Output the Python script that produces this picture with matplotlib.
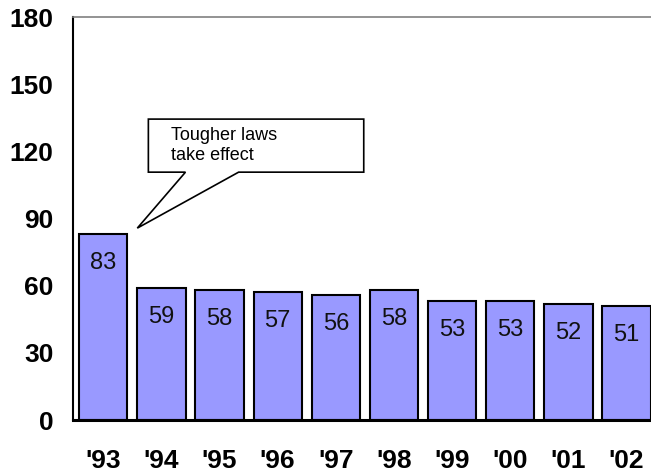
import matplotlib
matplotlib.use("Agg")
import matplotlib.pyplot as plt
from matplotlib.patches import Polygon

years = ["'93", "'94", "'95", "'96", "'97", "'98", "'99", "'00", "'01", "'02"]
values = [83, 59, 58, 57, 56, 58, 53, 53, 52, 51]
y_ticks = [0, 30, 60, 90, 120, 150, 180]
callout_text = "Tougher laws\ntake effect"

plt.rcParams["font.family"] = ["Liberation Sans", "DejaVu Sans"]

fig = plt.figure(figsize=(6.51, 4.73), dpi=100)
ax = fig.add_axes([73 / 651, 1 - 420 / 473, 1 - 73 / 651, (420 - 17) / 473])

x = range(len(years))
ax.bar(x, values, width=0.83, color="#9999FF", edgecolor="black", linewidth=1.5, zorder=2)
for i, v in zip(x, values):
    ax.text(i, v - 13, str(v), ha="center", va="center", fontsize=17, color="#111111")

ax.set_xlim(-0.52, 9.42)
ax.set_ylim(0, 180)
ax.set_yticks(y_ticks)
ax.set_xticks(list(x))
ax.set_xticklabels(years)
for lab in ax.get_xticklabels() + ax.get_yticklabels():
    lab.set_fontweight("bold")
    lab.set_fontsize(19)
ax.tick_params(axis="y", length=0, pad=14)
ax.tick_params(axis="x", length=0, pad=21)

ax.spines["right"].set_visible(False)
ax.spines["top"].set_color("#808080")
ax.spines["top"].set_linewidth(1.2)
ax.spines["left"].set_linewidth(1.5)
ax.spines["bottom"].set_linewidth(2.2)

# speech-bubble callout pointing at the first bar
bubble = [(0.776, 134.4), (4.48, 134.4), (4.48, 110.7), (2.328, 110.7),
          (0.586, 85.7), (1.414, 110.7), (0.776, 110.7)]
ax.add_patch(Polygon(bubble, closed=True, facecolor="white", edgecolor="black",
                     linewidth=1.2, zorder=3, clip_on=False))
ax.text(1.17, 122.6, callout_text, ha="left", va="center", fontsize=13,
        linespacing=1.3, zorder=4)

fig.savefig("out.png", dpi=100)
